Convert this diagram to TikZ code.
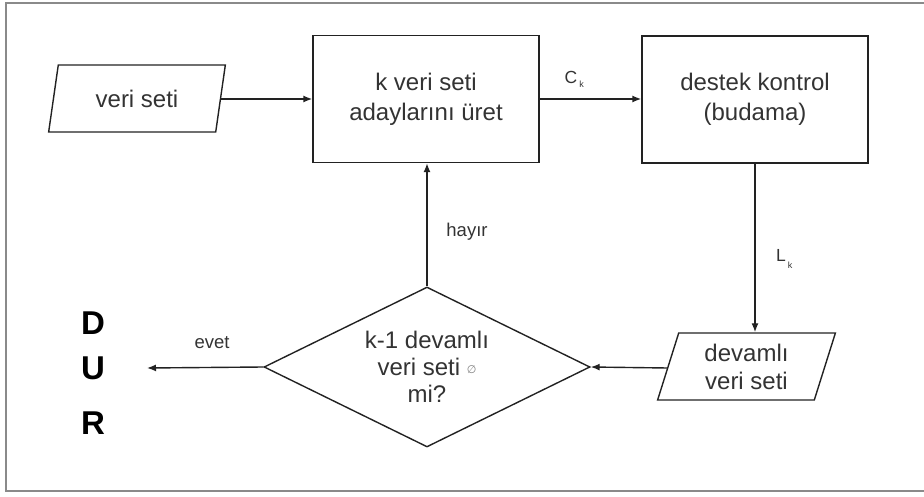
\documentclass[tikz,border=0pt]{standalone}
\usepackage{fontspec}
\setmainfont{Liberation Sans}
\newfontfamily\symfont{DejaVu Sans}
\usetikzlibrary{shapes.geometric,arrows.meta}
\definecolor{txt}{HTML}{333333}
\definecolor{ln}{HTML}{222222}
\definecolor{frame}{HTML}{8A8A8A}
\tikzset{
  every node/.style={text=txt},
  procbox/.style={draw=ln, line width=1.4pt, rectangle, minimum width=226pt, minimum height=127pt, align=center, font=\fontsize{24}{30}\selectfont, inner sep=0pt},
  iobox/.style={draw=ln, line width=1.4pt, trapezium, trapezium left angle=74, trapezium right angle=106, trapezium stretches=true, minimum width=178pt, minimum height=67pt, align=center, font=\fontsize{24}{28}\selectfont, inner sep=0pt},
  decbox/.style={draw=ln, line width=1.4pt, diamond, aspect=2.04, minimum width=326pt, minimum height=160pt, align=center, font=\fontsize{24}{27}\selectfont, inner sep=0pt},
  conn/.style={draw=ln, line width=1.4pt, -{Latex[length=9pt,width=7pt]}},
  lbl/.style={font=\fontsize{18.5}{20}\selectfont, inner sep=0pt},
  sublbl/.style={font=\fontsize{17.5}{19}\selectfont, inner sep=0pt},
  subk/.style={font=\fontsize{9}{9}\selectfont, inner sep=0pt},
  bigl/.style={font=\fontsize{33}{36}\selectfont\bfseries, text=black, inner sep=0pt}
}
\begin{document}
\begin{tikzpicture}[x=1pt,y=-1pt]
\useasboundingbox (0,0) rectangle (924,497);
\draw[frame, line width=2pt] (940,3.5) -- (6,3.5) -- (6,490.5) -- (940,490.5);

\node[iobox] (in) at (137,98.5) {veri seti};
\node[procbox] (gen) at (426,99) {k veri seti\\adaylarını üret};
\node[procbox] (sup) at (755,99.5) {destek kontrol\\(budama)};
\node[iobox] (freq) at (746.5,366.5) {devamlı\\veri seti};
\node[decbox] (dec) at (427,367) {k-1 devamlı\\veri seti {\symfont\fontsize{11}{11}\selectfont\color{gray}\raisebox{2pt}{∅}}\\mi?};

\node[bigl] (d) at (93,323) {D};
\node[bigl] (u) at (93,368) {U};
\node[bigl] (r) at (93,423) {R};
\coordinate (stop) at (147,368);

\draw[conn] (in.east |- 0,99) -- (gen.west |- 0,99);
\draw[conn] (gen.east |- 0,99) -- (sup.west |- 0,99);
\draw[conn] (sup.south -| 755,0) -- (freq.north -| 755,0);
\draw[conn] (freq.west |- 0,368) -- (dec.east);
\draw[conn] (dec.north) -- (gen.south -| dec.north);
\draw[conn] (dec.west) -- (stop);

\node[sublbl] (ck) at (571,77) {C};
\node[subk] (cks) at (581.5,84) {k};
\node[sublbl] (lk) at (781,255) {L};
\node[subk] (lks) at (790,265) {k};
\node[lbl] (hay) at (467,232) {hayır};
\node[lbl] (ev) at (212,343) {evet};
\end{tikzpicture}
\end{document}
